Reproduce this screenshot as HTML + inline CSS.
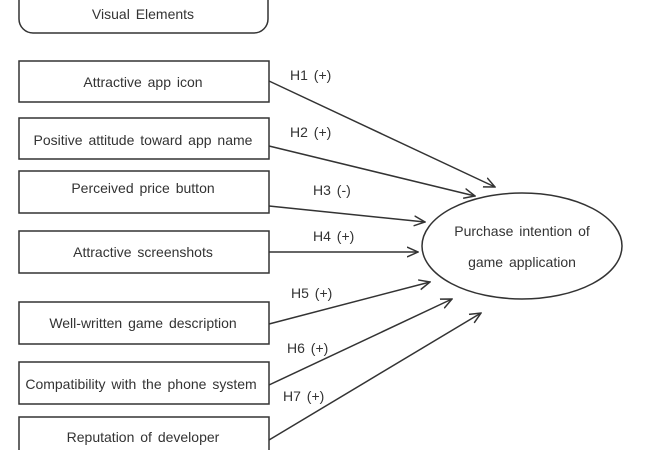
<!DOCTYPE html>
<html><head><meta charset="utf-8"><style>
html,body{margin:0;padding:0;background:#fff;}
svg{display:block;}
text{font-family:"Liberation Sans",sans-serif;font-size:14px;fill:#333;word-spacing:2px;}
</style></head><body>
<svg width="650" height="450" viewBox="0 0 650 450" xmlns="http://www.w3.org/2000/svg">
<defs>
<marker id="a" viewBox="0 0 12 12" refX="11" refY="6" markerWidth="12" markerHeight="12" markerUnits="userSpaceOnUse" orient="auto">
<path d="M0,1 L11,6 L0,11" fill="none" stroke="#333" stroke-width="1.5"/>
</marker>
</defs>
<g fill="none" stroke="#333" stroke-width="1.5">
<rect x="19" y="-20" width="249" height="53" rx="14"/>
<rect x="19" y="61" width="250" height="41"/>
<rect x="19" y="118" width="250" height="41"/>
<rect x="19" y="171" width="250" height="42"/>
<rect x="19" y="231" width="250" height="42"/>
<rect x="19" y="302" width="250" height="42"/>
<rect x="19" y="362" width="250" height="42"/>
<rect x="19" y="417" width="250" height="45"/>
<ellipse cx="522" cy="246" rx="100" ry="53"/>
<g marker-end="url(#a)">
<line x1="269" y1="81" x2="495" y2="187"/>
<line x1="269" y1="146" x2="475" y2="196"/>
<line x1="269" y1="206" x2="425" y2="222"/>
<line x1="269" y1="252" x2="418" y2="252"/>
<line x1="269" y1="324" x2="430" y2="282"/>
<line x1="269" y1="385" x2="452" y2="299"/>
<line x1="269" y1="440" x2="481" y2="313"/>
</g>
</g>
<g text-anchor="middle">
<text x="143" y="19">Visual Elements</text>
<text x="143" y="87">Attractive app icon</text>
<text x="143" y="145">Positive attitude toward app name</text>
<text x="143" y="193">Perceived price button</text>
<text x="143" y="257">Attractive screenshots</text>
<text x="143" y="328">Well-written game description</text>
<text x="141" y="389">Compatibility with the phone system</text>
<text x="143" y="442">Reputation of developer</text>
<text x="522" y="236">Purchase intention of</text>
<text x="522" y="267">game application</text>
</g>
<g>
<text x="290" y="80">H1 (+)</text>
<text x="290" y="137">H2 (+)</text>
<text x="313" y="195">H3 (-)</text>
<text x="313" y="241">H4 (+)</text>
<text x="291" y="298">H5 (+)</text>
<text x="287" y="353">H6 (+)</text>
<text x="283" y="401">H7 (+)</text>
</g>
</svg>
</body></html>
